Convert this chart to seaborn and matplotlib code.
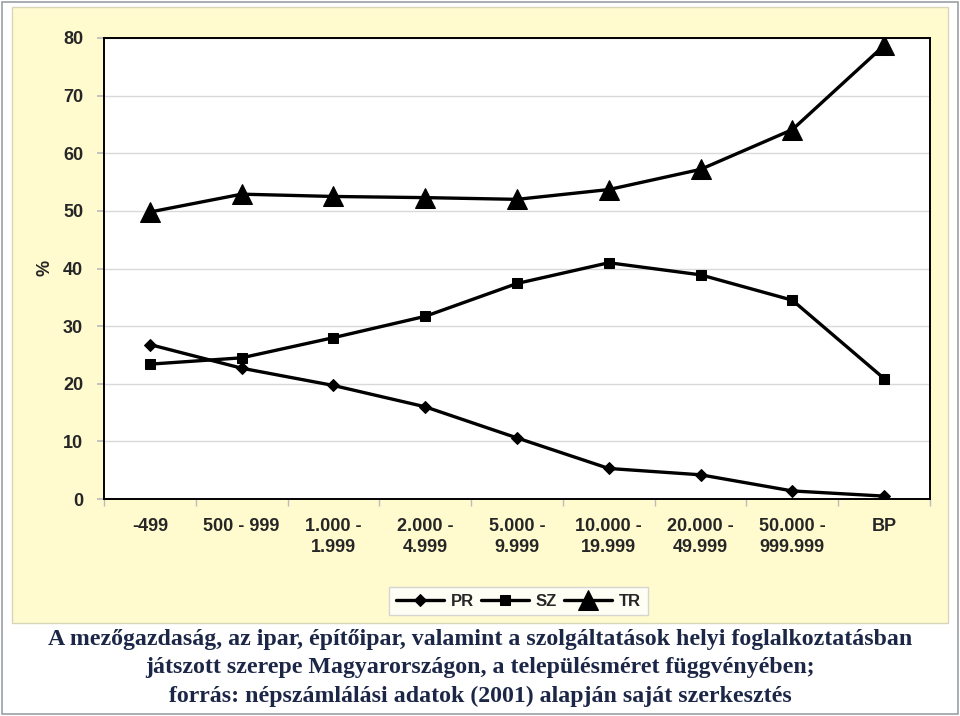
import matplotlib
matplotlib.use("Agg")
import matplotlib.pyplot as plt
import seaborn as sns
import pandas as pd
import numpy as np
from matplotlib.patches import Rectangle

categories = ["-499", "500 - 999", "1.000 -\n1.999", "2.000 -\n4.999", "5.000 -\n9.999",
              "10.000 -\n19.999", "20.000 -\n49.999", "50.000 -\n999.999", "BP"]
PR = [26.8, 22.7, 19.7, 16.0, 10.6, 5.3, 4.2, 1.4, 0.5]
SZ = [23.4, 24.5, 28.0, 31.7, 37.4, 41.0, 38.9, 34.5, 20.9]
TR = [49.8, 52.9, 52.5, 52.3, 52.0, 53.7, 57.2, 64.1, 78.7]
yticks = [0, 10, 20, 30, 40, 50, 60, 70, 80]
caption = ("A mezőgazdaság, az ipar, építőipar, valamint a szolgáltatások helyi foglalkoztatásban\n"
           "játszott szerepe Magyarországon, a településméret függvényében;\n"
           "forrás: népszámlálási adatok (2001) alapján saját szerkesztés")

sns.set_theme(style="white")
plt.rcParams['font.family'] = ['Liberation Sans', 'DejaVu Sans']

fig = plt.figure(figsize=(9.6, 7.16), dpi=100)
fig.patch.set_facecolor("white")
# outer frame
fig.add_artist(Rectangle((2/960, 1 - 714/716), 956/960, 712/716, transform=fig.transFigure,
                         facecolor="white", edgecolor="#9AA0A6", lw=1.2, zorder=0))
# yellow chart area
fig.add_artist(Rectangle((12/960, 1 - 623/716), 936/960, 616/716, transform=fig.transFigure,
                         facecolor="#FFFBCF", edgecolor="#D8D6B8", lw=1.0, zorder=0))

ax = fig.add_axes([104/960, 1 - 499/716, 826/960, 461/716])
ax.set_facecolor("white")

x = np.arange(len(categories))
df = pd.DataFrame({"x": np.tile(x, 3), "v": PR + SZ + TR,
                   "s": ["PR"] * 9 + ["SZ"] * 9 + ["TR"] * 9})

markers = {"PR": "D", "SZ": "s", "TR": "^"}
msizes = {"PR": 6.5, "SZ": 7.5, "TR": 14}
for name in ["PR", "SZ", "TR"]:
    sub = df[df["s"] == name]
    sns.lineplot(data=sub, x="x", y="v", ax=ax, color="black", lw=2.4,
                 marker=markers[name], markersize=msizes[name], markeredgecolor="black",
                 markerfacecolor="black", label=name, zorder=3)

ax.set_xlim(-0.5, len(categories) - 0.5)
ax.set_ylim(0, 80)
ax.set_yticks(yticks)
ax.set_yticklabels([str(t) for t in yticks], fontsize=13, fontweight="bold")
ax.set_xticks(x)
ax.set_xticklabels(categories, fontsize=13, fontweight="bold", linespacing=1.3, va="top")
ax.set_xticks(np.arange(len(categories) + 1) - 0.5, minor=True)
ax.tick_params(axis="x", which="major", length=0, pad=14)
ax.tick_params(axis="x", which="minor", length=5, color="#BBBBBB", direction="out", bottom=True)
ax.tick_params(axis="y", which="major", length=5, color="#BBBBBB", direction="out", left=True, pad=10)
ax.grid(axis="y", color="#D9D9D9", lw=1.0)
ax.set_axisbelow(True)
for sp in ax.spines.values():
    sp.set_color("black")
    sp.set_linewidth(1.4)
ax.set_xlabel("")
ax.set_ylabel("")
fig.text(45/960, 1 - 268/716, "%", rotation=90, ha="center", va="center", fontsize=13, fontweight="bold")

leg = ax.legend(loc="center", bbox_to_anchor=(518.5/960, 1 - 601/716), bbox_transform=fig.transFigure,
                ncol=3, frameon=True, fancybox=False, prop={"weight": "bold", "size": 12},
                handlelength=2.9, handletextpad=0.4, columnspacing=0.4, borderpad=0.4)
leg.get_frame().set_edgecolor("#CCCCCC")
leg.get_frame().set_linewidth(1.0)
leg.get_frame().set_facecolor("white")

fig.text(0.5, 1 - 668/716, caption, ha="center", va="center", fontsize=17.2, fontweight="bold",
         family=["Liberation Serif", "DejaVu Serif"], color="#1C2747", linespacing=1.45)

fig.savefig("out.png", dpi=100)
